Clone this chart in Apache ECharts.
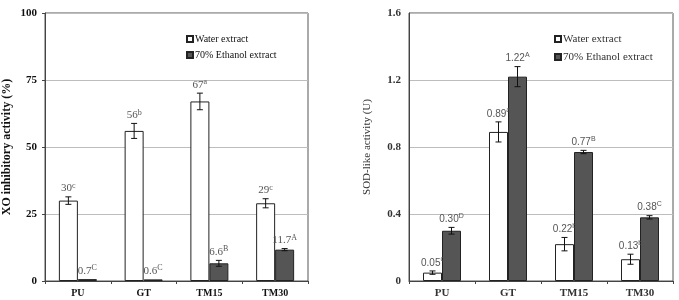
<!DOCTYPE html>
<html>
<head>
<meta charset="utf-8">
<script src="https://cdn.jsdelivr.net/npm/echarts@6/dist/echarts.min.js"></script>
<style>
  html, body { margin: 0; padding: 0; background: #fff; }
  #main { width: 679px; height: 300px; }
</style>
</head>
<body>
<div id="main"></div>
<script>
// data
const categories = ['PU', 'GT', 'TM15', 'TM30'];

const xoWater = [30, 56, 67, 29];
const xoWaterErr = [1.4, 2.8, 3.1, 1.7];
const xoWaterSig = ['c', 'b', 'a', 'c'];
const xoEthanol = [0.7, 0.6, 6.6, 11.7];
const xoEthanolErr = [0, 0, 1.1, 0.4];
const xoEthanolSig = ['C', 'C', 'B', 'A'];

const sodWater = [0.05, 0.89, 0.22, 0.13];
const sodWaterErr = [0.01, 0.06, 0.04, 0.03];
const sodWaterSig = ['c', 'a', 'b', 'b'];
const sodEthanol = [0.30, 1.22, 0.77, 0.38];
const sodEthanolErr = [0.02, 0.06, 0.01, 0.01];
const sodEthanolSig = ['D', 'A', 'B', 'C'];

const xoTicks = [0, 25, 50, 75, 100];
const sodTicks = [0, 0.4, 0.8, 1.2, 1.6];

const SERIF = '"Liberation Serif", "Times New Roman", serif';
const SANS = '"Liberation Sans", Arial, sans-serif';
const BAR_W = 19;

const chart = echarts.init(document.getElementById('main'), null, { renderer: 'canvas' });

// error bar + value label drawn by a custom series
function errorSeries(gridIdx, values, errs, sigs, side, digits, labelFont) {
  return {
    type: 'custom',
    xAxisIndex: gridIdx,
    yAxisIndex: gridIdx,
    z: 5,
    clip: false,
    silent: true,
    data: values.map((v, i) => [i, v, errs[i]]),
    encode: { x: 0, y: 1 },
    renderItem: function (params, api) {
      const i = params.dataIndex;
      const v = api.value(1);
      const e = api.value(2);
      const base = api.coord([api.value(0), v]);
      const x = base[0] + side * BAR_W / 2;
      const yTop = api.coord([api.value(0), v + e])[1];
      const yBot = api.coord([api.value(0), v - e])[1];
      const st = { stroke: '#111', lineWidth: 1 };
      const children = [];
      if (e > 0) {
        children.push(
          { type: 'line', shape: { x1: x, y1: yTop, x2: x, y2: yBot }, style: st },
          { type: 'line', shape: { x1: x - 3, y1: yTop, x2: x + 3, y2: yTop }, style: st },
          { type: 'line', shape: { x1: x - 3, y1: yBot, x2: x + 3, y2: yBot }, style: st }
        );
      }
      children.push({
        type: 'text',
        x: x,
        y: yTop - 3,
        style: {
          text: '{v|' + v.toFixed(digits) + '}{s|' + sigs[i] + '}',
          align: 'center',
          verticalAlign: 'bottom',
          rich: {
            v: { fontFamily: labelFont.family, fontSize: labelFont.size, fill: '#555', lineHeight: 12, verticalAlign: 'bottom' },
            s: { fontFamily: labelFont.family, fontSize: labelFont.size - 3, fill: '#555', lineHeight: 12, verticalAlign: 'top' }
          }
        }
      });
      return { type: 'group', children: children };
    }
  };
}

function barSeries(gridIdx, name, values, fill) {
  return {
    name: name,
    type: 'bar',
    xAxisIndex: gridIdx,
    yAxisIndex: gridIdx,
    barWidth: BAR_W,
    barGap: 0,
    data: values,
    itemStyle: { color: fill, borderColor: '#222', borderWidth: 1 }
  };
}

const serifLabel = { family: SERIF, size: 11 };
const sansLabel = { family: SANS, size: 10 };

const option = {
  animation: false,
  backgroundColor: '#fff',
  grid: [
    { left: 45, right: 371, top: 13, bottom: 19, show: true, borderColor: '#555', borderWidth: 1 },
    { left: 409, right: 6, top: 13, bottom: 19, show: true, borderColor: '#555', borderWidth: 1 }
  ],
  legend: [
    {
      orient: 'vertical', left: 181, top: 28, itemWidth: 6, itemHeight: 6, itemGap: 4,
      icon: 'rect',
      data: ['Water extract', '70% Ethanol extract'],
      textStyle: { fontFamily: SERIF, fontSize: 10, color: '#111', lineHeight: 12, padding: [0, 0, 0, -3] }
    },
    {
      orient: 'vertical', left: 549, top: 28, itemWidth: 6, itemHeight: 6, itemGap: 6,
      icon: 'rect',
      data: ['Water extract', '70% Ethanol extract'],
      textStyle: { fontFamily: SERIF, fontSize: 11, color: '#333', lineHeight: 12, padding: [0, 0, 0, -3] }
    }
  ],
  xAxis: [0, 1].map(g => ({
    type: 'category',
    gridIndex: g,
    data: categories,
    axisLine: { lineStyle: { color: '#444', width: 1 } },
    axisTick: { show: true, length: 3, lineStyle: { color: '#444' } },
    axisLabel: { fontFamily: SERIF, fontWeight: 'bold', fontSize: g === 0 ? 10 : 11, color: g === 0 ? '#111' : '#333', margin: 7 }
  })),
  yAxis: [
    {
      type: 'value', gridIndex: 0, min: xoTicks[0], max: xoTicks[xoTicks.length - 1], interval: 25,
      name: 'XO inhibitory activity (%)', nameLocation: 'middle', nameRotate: 90, nameGap: 32,
      nameTextStyle: { fontFamily: SERIF, fontWeight: 'bold', fontSize: 12, color: '#111' },
      axisLine: { show: true, lineStyle: { color: '#444' } },
      axisTick: { show: true, length: 3, lineStyle: { color: '#444' } },
      axisLabel: { fontFamily: SERIF, fontWeight: 'bold', fontSize: 11, color: '#111', margin: 8 },
      splitLine: { lineStyle: { color: '#bdbdbd' } }
    },
    {
      type: 'value', gridIndex: 1, min: sodTicks[0], max: sodTicks[sodTicks.length - 1], interval: 0.4,
      name: 'SOD-like activity (U)', nameLocation: 'middle', nameRotate: 90, nameGap: 36,
      nameTextStyle: { fontFamily: SERIF, fontSize: 11, color: '#333' },
      axisLine: { show: true, lineStyle: { color: '#444' } },
      axisTick: { show: false },
      axisLabel: {
        fontFamily: SERIF, fontWeight: 'bold', fontSize: 11, color: '#333', margin: 8,
        formatter: v => (v === 0 ? '0' : v.toFixed(1))
      },
      splitLine: { lineStyle: { color: '#bdbdbd' } }
    }
  ],
  series: [
    barSeries(0, 'Water extract', xoWater, '#ffffff'),
    barSeries(0, '70% Ethanol extract', xoEthanol, '#555555'),
    barSeries(1, 'Water extract', sodWater, '#ffffff'),
    barSeries(1, '70% Ethanol extract', sodEthanol, '#555555'),
    errorSeries(0, xoWater, xoWaterErr, xoWaterSig, -1, 0, serifLabel),
    errorSeries(0, xoEthanol, xoEthanolErr, xoEthanolSig, 1, 1, serifLabel),
    errorSeries(1, sodWater, sodWaterErr, sodWaterSig, -1, 2, sansLabel),
    errorSeries(1, sodEthanol, sodEthanolErr, sodEthanolSig, 1, 2, sansLabel)
  ]
};

chart.setOption(option);
</script>
</body>
</html>
